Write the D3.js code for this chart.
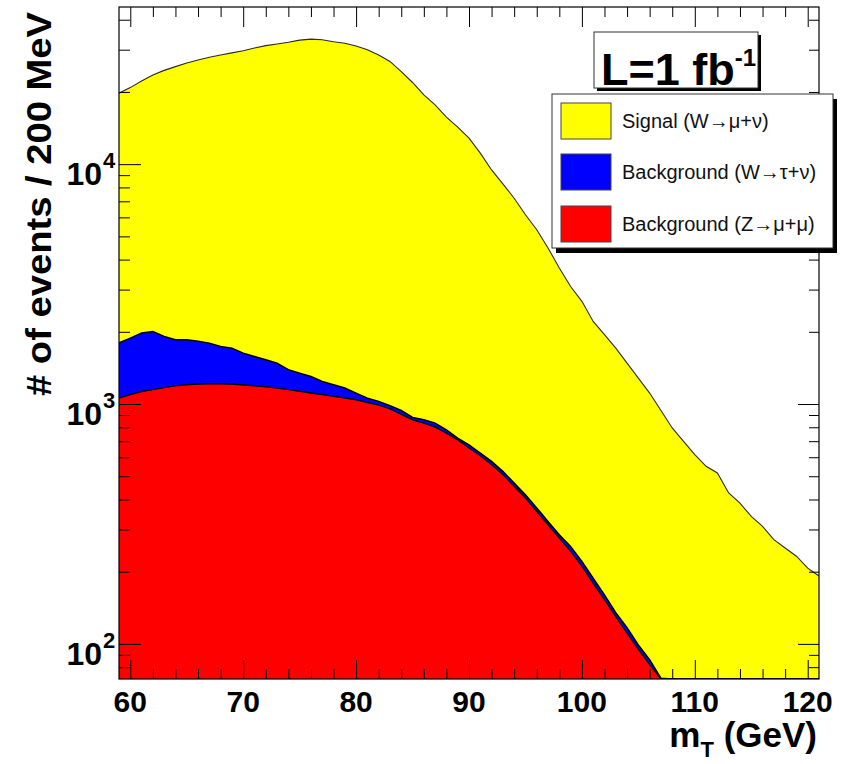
<!DOCTYPE html>
<html>
<head>
<meta charset="utf-8">
<script src="https://cdn.jsdelivr.net/npm/d3@7"></script>
<style>
  body { margin: 0; background: #fff; }
  svg { display: block; }
  text { font-family: "Liberation Sans", Arial, Helvetica, sans-serif; }
</style>
</head>
<body>
<svg id="chart" width="845" height="764"></svg>
<script>
// ---------------- data (1 GeV sampling) ----------------
const mT = d3.range(59, 122); // GeV, 59 .. 121

// Background Z -> mu + mu (bottom of the stack)
const zmumu = [
  1059, 1094, 1128, 1148, 1170, 1190, 1203, 1210, 1215, 1215,
  1210, 1200, 1191, 1180, 1165, 1148, 1130, 1112, 1094, 1077,
  1060, 1042, 1015,  990,  955,  905,  860,  833,  802,  757,
   709,  656,  609,  559,  508,  454,  406,  357,  314,  276,
   243,  211,  179,  153,  130,  111,   95,   82,   62,    0,
     0,    0,    0,    0,    0,    0,    0,    0,    0,    0,
     0,    0,    0
];

// Background W -> tau + nu (middle of the stack)
const wtaunu = [
   741,  790,  849,  859,  744,  663,  650,  620,  580,  523,
   501,  431,  387,  350,  317,  242,  216,  191,  148,  126,
   106,   69,   44,   36,   30,   35,   20,   28,   31,   24,
    12,   20,   16,   18,   16,   15,   13,   12,   10,    9,
    12,   10,    9,    7,    5,    6,    4,    4,   10,    0,
     0,    0,    0,    0,    0,    0,    0,    0,    0,    0,
     0,    0,    0
];

// Signal W -> mu + nu (top of the stack)
const signal = [
  17970, 18966, 20223, 21543, 22686, 23647, 24547, 25370, 26105, 26762,
  27389, 28069, 28922, 29670, 30218, 30810, 31554, 31897, 31758, 31197,
  30734, 29989, 28941, 27474, 25815, 23360, 21020, 18589, 16827, 14919,
  13539, 12154, 10485,  8883,  7756,  6741,  5731,  4961,  4146,  3405,
   2835,  2459,  2022,  1785,  1576,  1365,  1184,  1025,   868,   795,
    699,   615,   550,   516,   426,   386,   340,   309,   272,   251,
    232,   207,   192
];

const seriesKeys   = ["zmumu", "wtaunu", "signal"];
const legendKeys   = ["signal", "wtaunu", "zmumu"];
const legendLabels = ["Signal (W\u2192\u03BC+\u03BD)", "Background (W\u2192\u03C4+\u03BD)", "Background (Z\u2192\u03BC+\u03BC)"];
const xMajorTicks  = [60, 70, 80, 90, 100, 110, 120];
const yDecades     = [2, 3, 4];
const xDomain      = [59, 121];
const yDomain      = [71.4, 45200];

const colors = { signal: "#ffff00", wtaunu: "#0000ff", zmumu: "#ff0000" };

// ---------------- layout ----------------
const svg = d3.select("#chart");
const L = 119, R = 819, T = 7, B = 679;

const x = d3.scaleLinear().domain(xDomain).range([L, R]);
const y = d3.scaleLog().domain(yDomain).range([B, T]).clamp(true);
const yc = v => y(Math.max(v, 1));

const table = mT.map((m, i) => ({ m, zmumu: zmumu[i], wtaunu: wtaunu[i], signal: signal[i] }));
const stacked = d3.stack().keys(seriesKeys)(table);

svg.append("defs").append("clipPath").attr("id", "plotclip")
  .append("rect").attr("x", L).attr("y", T).attr("width", R - L).attr("height", B - T);

const plot = svg.append("g").attr("clip-path", "url(#plotclip)");

const area = d3.area().curve(d3.curveLinear)
  .x(d => x(d.data.m)).y0(B).y1(d => yc(d[1]));
const line = d3.line().curve(d3.curveLinear)
  .x(d => x(d.data.m)).y(d => yc(d[1]));

// draw from the top of the stack downwards so lower series cover upper fills
[...stacked].reverse().forEach(s => {
  plot.append("path").datum(s).attr("d", area).attr("fill", colors[s.key]);
  plot.append("path").datum(s).attr("d", line)
    .attr("fill", "none")
    .attr("stroke", s.key === "signal" ? "#2a2a2a" : "#000")
    .attr("stroke-width", s.key === "signal" ? 1.1 : 1.4);
});

// ---------------- axes (ROOT style, ticks inside on all four sides) ----------------
const xMinor = d3.range(60, 121, 2).filter(v => !xMajorTicks.includes(v));
const yMajor = yDecades.map(e => Math.pow(10, e));
const yMinor = [];
[1, 2, 3, 4].forEach(e => {
  for (let k = 2; k <= 9; k++) {
    const v = k * Math.pow(10, e);
    if (v >= yDomain[0] && v <= yDomain[1]) yMinor.push(v);
  }
});

function addAxis(gen, tx, ty) {
  const g = svg.append("g").attr("transform", `translate(${tx},${ty})`).call(gen);
  g.select(".domain").remove();
  g.selectAll("line").attr("stroke", "#000").attr("stroke-width", 1);
  return g;
}
addAxis(d3.axisBottom(x).tickValues(xMajorTicks).tickSize(-19).tickFormat(""), 0, B);
addAxis(d3.axisBottom(x).tickValues(xMinor).tickSize(-10).tickFormat(""), 0, B);
addAxis(d3.axisTop(x).tickValues(xMajorTicks).tickSize(-20).tickFormat(""), 0, T);
addAxis(d3.axisTop(x).tickValues(xMinor).tickSize(-10).tickFormat(""), 0, T);
addAxis(d3.axisLeft(y).tickValues(yMajor).tickSize(-22).tickFormat(""), L, 0);
addAxis(d3.axisLeft(y).tickValues(yMinor).tickSize(-11).tickFormat(""), L, 0);
addAxis(d3.axisRight(y).tickValues(yMajor).tickSize(-21).tickFormat(""), R, 0);
addAxis(d3.axisRight(y).tickValues(yMinor).tickSize(-10).tickFormat(""), R, 0);

svg.append("rect").attr("x", L).attr("y", T).attr("width", R - L).attr("height", B - T)
  .attr("fill", "none").attr("stroke", "#000").attr("stroke-width", 1.2);

// x tick labels
svg.append("g").selectAll("text").data(xMajorTicks).join("text")
  .attr("x", d => x(d)).attr("y", 712)
  .attr("text-anchor", "middle").attr("font-size", 30).attr("font-weight", "bold")
  .text(d => d);

// y tick labels 10^n
const yl = svg.append("g").selectAll("g").data(yDecades).join("g");
yl.append("text")
  .attr("x", 102).attr("y", d => y(Math.pow(10, d)) + 21)
  .attr("text-anchor", "end").attr("font-size", 32).attr("font-weight", "bold")
  .text("10");
yl.append("text")
  .attr("x", 103).attr("y", d => y(Math.pow(10, d)) + 4)
  .attr("text-anchor", "start").attr("font-size", 22).attr("font-weight", "bold")
  .text(d => d);

// axis titles
svg.append("text")
  .attr("transform", "translate(51,12) rotate(-90)")
  .attr("text-anchor", "end").attr("font-size", 35).attr("font-weight", "bold")
  .attr("textLength", 384).attr("lengthAdjust", "spacingAndGlyphs")
  .text("# of events / 200 MeV");

const xt = svg.append("text").attr("x", 817).attr("y", 747)
  .attr("text-anchor", "end").attr("font-size", 35).attr("font-weight", "bold");
xt.append("tspan").text("m");
xt.append("tspan").attr("font-size", 22).attr("dy", 10).text("T");
xt.append("tspan").attr("dy", -10).text(" (GeV)");

// luminosity box
svg.append("rect").attr("x", 597).attr("y", 35).attr("width", 164).attr("height", 56).attr("fill", "#000");
svg.append("rect").attr("x", 594).attr("y", 32).attr("width", 164).attr("height", 56)
  .attr("fill", "#fff").attr("stroke", "#333").attr("stroke-width", 1);
const lt = svg.append("text").attr("x", 601).attr("y", 85)
  .attr("font-size", 45).attr("font-weight", "bold");
lt.append("tspan").text("L=1 fb");
lt.append("tspan").attr("font-size", 24).attr("dy", -19).text("-1");

// legend
svg.append("rect").attr("x", 556).attr("y", 99).attr("width", 281).attr("height", 154).attr("fill", "#000");
svg.append("rect").attr("x", 552).attr("y", 94).attr("width", 281).attr("height", 154)
  .attr("fill", "#fff").attr("stroke", "#333").attr("stroke-width", 1);
const rowY = [103, 154, 206];
const lg = svg.append("g").selectAll("g").data(legendKeys).join("g");
lg.append("rect")
  .attr("x", 561).attr("y", (d, i) => rowY[i]).attr("width", 50).attr("height", 36)
  .attr("fill", d => colors[d]).attr("stroke", "#444").attr("stroke-width", 1);
lg.append("text")
  .attr("x", 622).attr("y", (d, i) => rowY[i] + 25)
  .attr("font-size", 20).attr("fill", "#111")
  .text((d, i) => legendLabels[i]);
</script>
</body>
</html>
